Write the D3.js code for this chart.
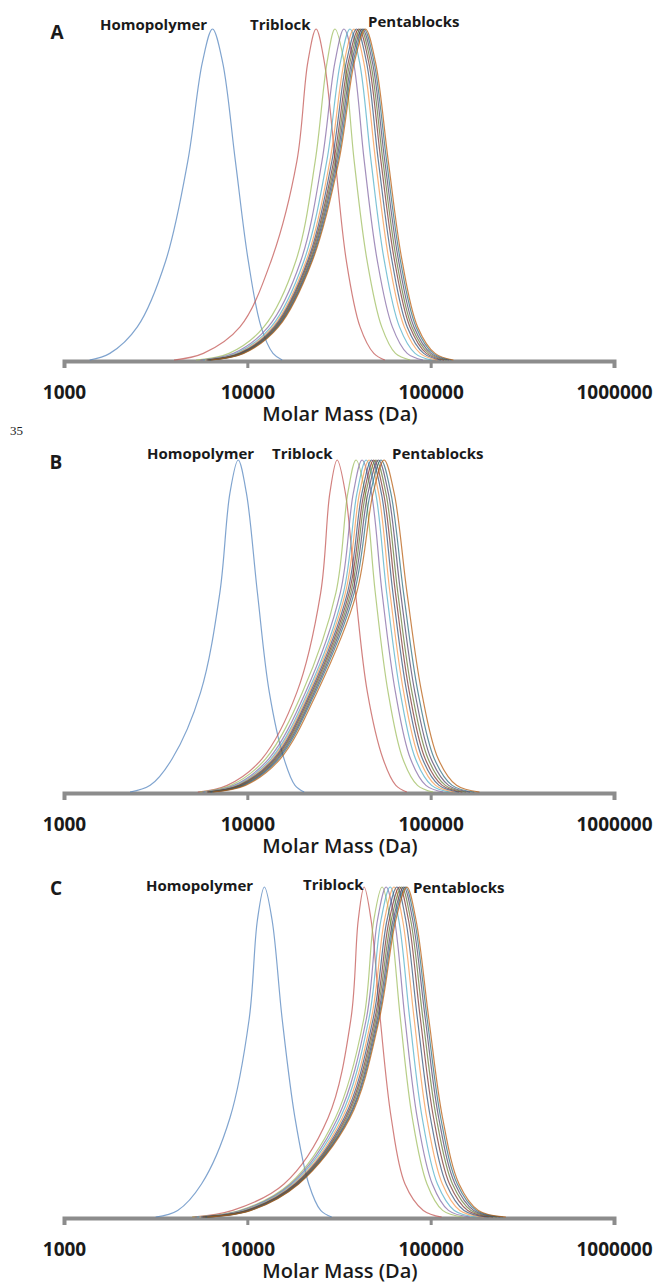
<!DOCTYPE html>
<html><head><meta charset="utf-8">
<script src="https://cdn.jsdelivr.net/npm/d3@7"></script>
<style>
html,body{margin:0;padding:0;background:#fff;}
svg{display:block;}
</style></head><body>
<svg id="chart" width="660" height="1287"></svg>
<script>
// ---------- DATA ----------
const panelNames = ["A", "B", "C"];
const xTickValues = [1000, 10000, 100000, 1000000];
const xTickLabels = ["1000", "10000", "100000", "1000000"];
const xTitle = "Molar Mass (Da)";
const curveLabels = ["Homopolymer", "Triblock", "Pentablocks"];
// normalised detector response at each listed point (left foot -> peak -> right foot)
const heightLevels = [0, 0.02, 0.1, 0.3, 0.6, 0.9, 1, 0.9, 0.6, 0.3, 0.1, 0.02, 0];
// series colours (homopolymer, triblock, pentablocks 1..10)
const seriesColors = ["#4F81BD", "#C0504D", "#9BBB59", "#8064A2", "#4BACC6", "#F79646",
                      "#2C4D75", "#772C2A", "#5F7530", "#4D3B62", "#276A7C", "#B65708"];

// log10(molar mass / Da) at each height level
const homopolymerA = [3.14, 3.25, 3.40, 3.555, 3.675, 3.755, 3.81, 3.865, 3.935, 4.005, 4.075, 4.14, 4.19];
const triblockA    = [3.60, 3.76, 3.96, 4.13, 4.27, 4.33, 4.375, 4.42, 4.48, 4.54, 4.615, 4.69, 4.75];
const pentablocksA = [
  [3.720, 3.900, 4.090, 4.265, 4.370, 4.435, 4.478, 4.528, 4.583, 4.653, 4.733, 4.808, 4.888],
  [3.744, 3.924, 4.114, 4.292, 4.407, 4.478, 4.527, 4.579, 4.638, 4.709, 4.791, 4.872, 4.958],
  [3.760, 3.940, 4.130, 4.309, 4.433, 4.508, 4.560, 4.612, 4.675, 4.747, 4.830, 4.915, 5.005],
  [3.770, 3.950, 4.140, 4.321, 4.450, 4.528, 4.582, 4.635, 4.700, 4.773, 4.856, 4.943, 5.036],
  [3.777, 3.957, 4.147, 4.329, 4.461, 4.540, 4.596, 4.650, 4.715, 4.789, 4.872, 4.962, 5.056],
  [3.783, 3.963, 4.153, 4.335, 4.471, 4.551, 4.608, 4.662, 4.729, 4.803, 4.887, 4.977, 5.073],
  [3.787, 3.967, 4.157, 4.341, 4.479, 4.560, 4.618, 4.672, 4.740, 4.814, 4.898, 4.990, 5.087],
  [3.792, 3.972, 4.162, 4.346, 4.486, 4.569, 4.627, 4.682, 4.750, 4.825, 4.909, 5.002, 5.100],
  [3.796, 3.976, 4.166, 4.351, 4.493, 4.577, 4.636, 4.691, 4.760, 4.835, 4.920, 5.014, 5.113],
  [3.800, 3.980, 4.170, 4.355, 4.499, 4.584, 4.644, 4.699, 4.769, 4.844, 4.929, 5.024, 5.124]
];

const homopolymerB = [3.36, 3.47, 3.59, 3.745, 3.85, 3.905, 3.95, 3.995, 4.055, 4.12, 4.20, 4.26, 4.31];
const triblockB    = [3.73, 3.89, 4.08, 4.27, 4.40, 4.45, 4.49, 4.535, 4.59, 4.655, 4.74, 4.81, 4.87];
const pentablocksB = [
  [3.740, 3.910, 4.100, 4.300, 4.483, 4.548, 4.593, 4.643, 4.698, 4.768, 4.848, 4.928, 5.013],
  [3.755, 3.927, 4.117, 4.317, 4.507, 4.578, 4.626, 4.677, 4.735, 4.808, 4.890, 4.974, 5.068],
  [3.765, 3.939, 4.129, 4.329, 4.524, 4.598, 4.648, 4.700, 4.760, 4.834, 4.917, 5.005, 5.104],
  [3.772, 3.947, 4.137, 4.337, 4.535, 4.612, 4.664, 4.716, 4.778, 4.853, 4.938, 5.027, 5.130],
  [3.779, 3.954, 4.144, 4.344, 4.546, 4.625, 4.678, 4.731, 4.794, 4.870, 4.955, 5.046, 5.154],
  [3.784, 3.961, 4.151, 4.351, 4.555, 4.636, 4.690, 4.743, 4.808, 4.884, 4.970, 5.063, 5.173],
  [3.790, 3.967, 4.157, 4.357, 4.564, 4.646, 4.702, 4.756, 4.821, 4.898, 4.986, 5.080, 5.193],
  [3.796, 3.974, 4.164, 4.364, 4.573, 4.658, 4.715, 4.769, 4.836, 4.914, 5.002, 5.098, 5.215],
  [3.802, 3.981, 4.171, 4.371, 4.583, 4.671, 4.729, 4.783, 4.852, 4.931, 5.020, 5.117, 5.238],
  [3.810, 3.990, 4.180, 4.380, 4.596, 4.686, 4.746, 4.801, 4.871, 4.951, 5.041, 5.141, 5.266]
];

const homopolymerC = [3.50, 3.62, 3.75, 3.905, 4.01, 4.055, 4.093, 4.135, 4.19, 4.26, 4.335, 4.40, 4.46];
const triblockC    = [3.70, 3.92, 4.20, 4.44, 4.565, 4.605, 4.637, 4.675, 4.725, 4.785, 4.86, 4.96, 5.06];
const pentablocksC = [
  [3.700, 3.960, 4.230, 4.480, 4.635, 4.690, 4.735, 4.780, 4.835, 4.900, 4.980, 5.065, 5.175],
  [3.713, 3.970, 4.238, 4.493, 4.649, 4.710, 4.757, 4.803, 4.860, 4.927, 5.009, 5.097, 5.213],
  [3.726, 3.980, 4.246, 4.506, 4.663, 4.729, 4.779, 4.826, 4.886, 4.954, 5.037, 5.129, 5.252],
  [3.738, 3.989, 4.254, 4.518, 4.676, 4.748, 4.800, 4.847, 4.910, 4.979, 5.064, 5.159, 5.288],
  [3.748, 3.996, 4.260, 4.528, 4.686, 4.762, 4.816, 4.864, 4.928, 4.999, 5.085, 5.182, 5.316],
  [3.756, 4.002, 4.265, 4.536, 4.695, 4.774, 4.830, 4.879, 4.944, 5.016, 5.103, 5.202, 5.340],
  [3.763, 4.008, 4.270, 4.543, 4.702, 4.785, 4.842, 4.891, 4.958, 5.031, 5.119, 5.220, 5.361],
  [3.770, 4.012, 4.274, 4.550, 4.709, 4.795, 4.853, 4.902, 4.971, 5.044, 5.133, 5.235, 5.380],
  [3.775, 4.016, 4.277, 4.555, 4.715, 4.803, 4.862, 4.912, 4.981, 5.055, 5.145, 5.249, 5.396],
  [3.780, 4.020, 4.280, 4.560, 4.720, 4.810, 4.870, 4.920, 4.990, 5.065, 5.155, 5.260, 5.410]
];

const homopolymers = [homopolymerA, homopolymerB, homopolymerC];
const triblocks = [triblockA, triblockB, triblockC];
const pentablocks = [pentablocksA, pentablocksB, pentablocksC];

// ---------- LAYOUT ----------
const layout = [
  {axisY: 361, peakY: 29,  letter: [57, 39],  labels: [[100, 30], [250, 30], [368, 27]]},
  {axisY: 793, peakY: 460, letter: [56, 469], labels: [[147, 459], [272, 459], [392, 459]]},
  {axisY: 1218, peakY: 887, letter: [56, 895], labels: [[146, 891], [303, 890], [413, 893]]}
];
const FONT = "'Open Sans', 'DejaVu Sans', sans-serif";
const svg = d3.select("#chart");
const x = d3.scaleLog().domain([1000, 1000000]).range([64, 614]);

panelNames.forEach((name, i) => {
  const L = layout[i];
  const y = d3.scaleLinear().domain([0, 1]).range([L.axisY - 1, L.peakY]);
  const g = svg.append("g");

  // axis
  const axis = d3.axisBottom(x).tickValues(xTickValues)
    .tickFormat((d, k) => xTickLabels[k]).tickSizeInner(7).tickSizeOuter(7);
  const ag = g.append("g").attr("transform", `translate(0,${L.axisY})`).call(axis);
  ag.select(".domain").attr("stroke", "#8c8c8c").attr("stroke-width", 4).attr("fill", "none");
  ag.selectAll(".tick line").attr("stroke", "#8c8c8c").attr("stroke-width", 3);
  ag.selectAll(".tick text").attr("y", 38).attr("dy", 0)
    .attr("font-family", FONT).attr("font-size", 19).attr("font-weight", 700).attr("fill", "#1a1a1a");

  g.append("text").attr("x", 340).attr("y", L.axisY + 60).attr("text-anchor", "middle")
    .attr("font-family", FONT).attr("font-size", 20).attr("font-weight", 600).attr("fill", "#1a1a1a")
    .text(xTitle);

  // curves
  const line = d3.line()
    .x(d => x(Math.pow(10, d[0])))
    .y(d => y(d[1]))
    .curve(d3.curveCatmullRom.alpha(0.5));
  const series = [homopolymers[i], triblocks[i]].concat(pentablocks[i]);
  series.forEach((arr, k) => {
    const pts = arr.map((v, j) => [v, heightLevels[j]]);
    g.append("path").datum(pts).attr("d", line)
      .attr("fill", "none").attr("stroke", seriesColors[k])
      .attr("stroke-width", 1.2).attr("stroke-opacity", 0.72);
  });

  // labels
  g.append("text").attr("x", L.letter[0]).attr("y", L.letter[1]).attr("text-anchor", "middle")
    .attr("font-family", FONT).attr("font-size", 19).attr("font-weight", 700).attr("fill", "#1a1a1a")
    .text(name);
  curveLabels.forEach((t, k) => {
    g.append("text").attr("x", L.labels[k][0]).attr("y", L.labels[k][1])
      .attr("font-family", FONT).attr("font-size", 15).attr("font-weight", 700).attr("fill", "#1a1a1a")
      .text(t);
  });
});

svg.append("text").attr("x", 10).attr("y", 435)
  .attr("font-family", "'Liberation Serif', serif").attr("font-size", 13).attr("fill", "#222")
  .text("35");
</script></body></html>
